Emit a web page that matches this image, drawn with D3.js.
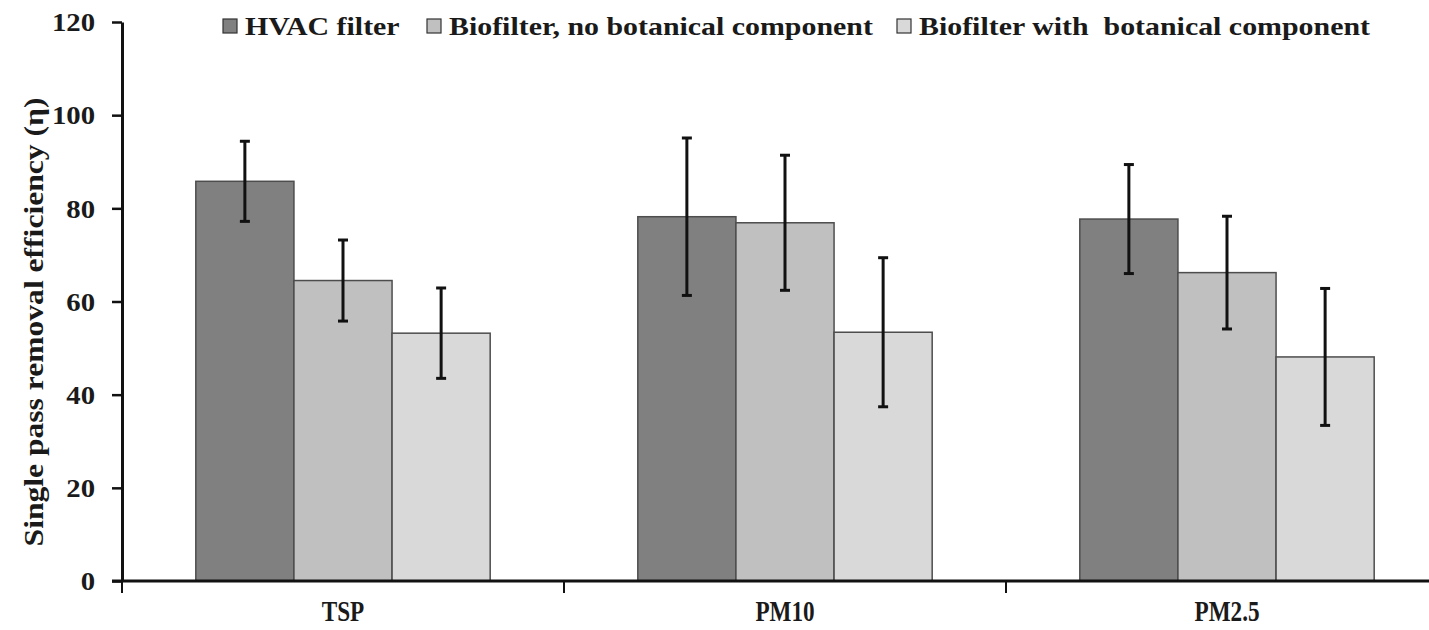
<!DOCTYPE html>
<html>
<head>
<meta charset="utf-8">
<script src="https://cdn.jsdelivr.net/npm/d3@7"></script>
<style>
  body { margin: 0; background: #fff; }
  text { font-family: "Liberation Serif", "Times New Roman", serif; font-weight: bold; fill: #1a1a1a; }
</style>
</head>
<body>
<svg id="chart" width="1429" height="630"></svg>
<script>
const categories = ["TSP", "PM10", "PM2.5"];
const seriesNames = ["HVAC filter", "Biofilter, no botanical component", "Biofilter with  botanical component"];
const seriesColors = ["#808080", "#c0c0c0", "#d9d9d9"];
const hvacValues = [85.8, 78.2, 77.7];
const hvacErrors = [8.6, 16.9, 11.7];
const noBotValues = [64.5, 76.9, 66.2];
const noBotErrors = [8.7, 14.5, 12.1];
const withBotValues = [53.2, 53.4, 48.1];
const withBotErrors = [9.7, 16.0, 14.7];
const yTicks = [0, 20, 40, 60, 80, 100, 120];

const seriesValues = [hvacValues, noBotValues, withBotValues];
const seriesErrors = [hvacErrors, noBotErrors, withBotErrors];

// the original figure is stretched sideways, so the text is too
const stretch = 1.15;

const margin = {top: 22, left: 122, bottom: 49},
      plotWidth = 1326,
      plotHeight = 630 - margin.top - margin.bottom;

const svg = d3.select("#chart");
const plot = svg.append("g")
    .attr("transform", "translate(" + margin.left + "," + margin.top + ")");

const xGroup = d3.scaleBand()
    .domain(categories)
    .range([0, plotWidth])
    .padding(0);

const xBar = d3.scaleBand()
    .domain(d3.range(seriesNames.length))
    .range([xGroup.bandwidth() * 0.167, xGroup.bandwidth() * 0.833])
    .padding(0);

const y = d3.scaleLinear()
    .domain([0, 120])
    .range([plotHeight, 0]);

// bars
const rows = [];
categories.forEach(function (c, i) {
    seriesNames.forEach(function (s, j) {
        rows.push({cat: c, s: j, v: seriesValues[j][i], e: seriesErrors[j][i]});
    });
});

plot.selectAll("rect.bar")
    .data(rows)
    .enter()
    .append("rect")
    .attr("class", "bar")
    .attr("x", d => xGroup(d.cat) + xBar(d.s))
    .attr("y", d => y(d.v))
    .attr("width", xBar.bandwidth())
    .attr("height", d => y(0) - y(d.v))
    .style("fill", d => seriesColors[d.s])
    .style("stroke", "#4d4d4d")
    .style("stroke-width", 1.5);

// error bars
const errG = plot.selectAll("g.err")
    .data(rows)
    .enter()
    .append("g")
    .attr("class", "err")
    .attr("transform", d => "translate(" + (xGroup(d.cat) + xBar(d.s) + xBar.bandwidth() / 2) + ",0)");

errG.append("line")
    .attr("y1", d => y(d.v + d.e))
    .attr("y2", d => y(d.v - d.e))
    .style("stroke", "#111")
    .style("stroke-width", 3);

errG.selectAll("line.cap")
    .data(d => [d.v + d.e, d.v - d.e])
    .enter()
    .append("line")
    .attr("class", "cap")
    .attr("x1", -5).attr("x2", 5)
    .attr("y1", d => y(d)).attr("y2", d => y(d))
    .style("stroke", "#111")
    .style("stroke-width", 3);

// y axis
const yAxis = plot.append("g")
    .call(d3.axisLeft(y).tickValues(yTicks).tickSize(10).tickSizeOuter(0));
yAxis.select(".domain").style("stroke", "#111").style("stroke-width", 3);
yAxis.selectAll(".tick line").style("stroke", "#111").style("stroke-width", 2.5);
yAxis.selectAll(".tick text")
    .attr("x", 0)
    .attr("dy", "0.35em")
    .attr("transform", "translate(-27,0) scale(" + stretch + ",1)")
    .style("font-size", "25px")
    .style("font-family", "Liberation Serif, serif")
    .style("font-weight", "bold")
    .style("fill", "#1a1a1a");

// x axis
plot.append("line")
    .attr("x1", -10).attr("x2", plotWidth)
    .attr("y1", y(0)).attr("y2", y(0))
    .style("stroke", "#111")
    .style("stroke-width", 3);

plot.selectAll("line.xtick")
    .data(categories)
    .enter()
    .append("line")
    .attr("class", "xtick")
    .attr("x1", d => xGroup(d)).attr("x2", d => xGroup(d))
    .attr("y1", y(0)).attr("y2", y(0) + 12)
    .style("stroke", "#111")
    .style("stroke-width", 2);

// category labels look tall and narrow in the original
plot.selectAll("text.xlabel")
    .data(categories)
    .enter()
    .append("text")
    .attr("class", "xlabel")
    .attr("transform", d => "translate(" + (xGroup(d) + xGroup.bandwidth() / 2) + "," + (y(0) + 40) + ") scale(0.8,1)")
    .attr("text-anchor", "middle")
    .style("font-size", "29px")
    .text(d => d);

// y label
svg.append("text")
    .attr("transform", "translate(43," + (margin.top + 300) + ") rotate(-90) scale(" + 1.17 + ",1)")
    .attr("text-anchor", "middle")
    .style("font-size", "27px")
    .text("Single pass removal efficiency (\u03b7)");

// legend
const legendX = [223, 427, 897];
const legend = svg.selectAll("g.legend")
    .data(seriesNames)
    .enter()
    .append("g")
    .attr("class", "legend")
    .attr("transform", (d, i) => "translate(" + legendX[i] + ",26)");

legend.append("rect")
    .attr("x", 0).attr("y", -7)
    .attr("width", 14).attr("height", 14)
    .style("fill", (d, i) => seriesColors[i])
    .style("stroke", "#333")
    .style("stroke-width", 1.2);

legend.append("text")
    .attr("transform", "translate(22,9) scale(" + stretch + ",1)")
    .style("font-size", "26px")
    .style("white-space", "pre")
    .attr("xml:space", "preserve")
    .text(d => d);
</script>
</body>
</html>
